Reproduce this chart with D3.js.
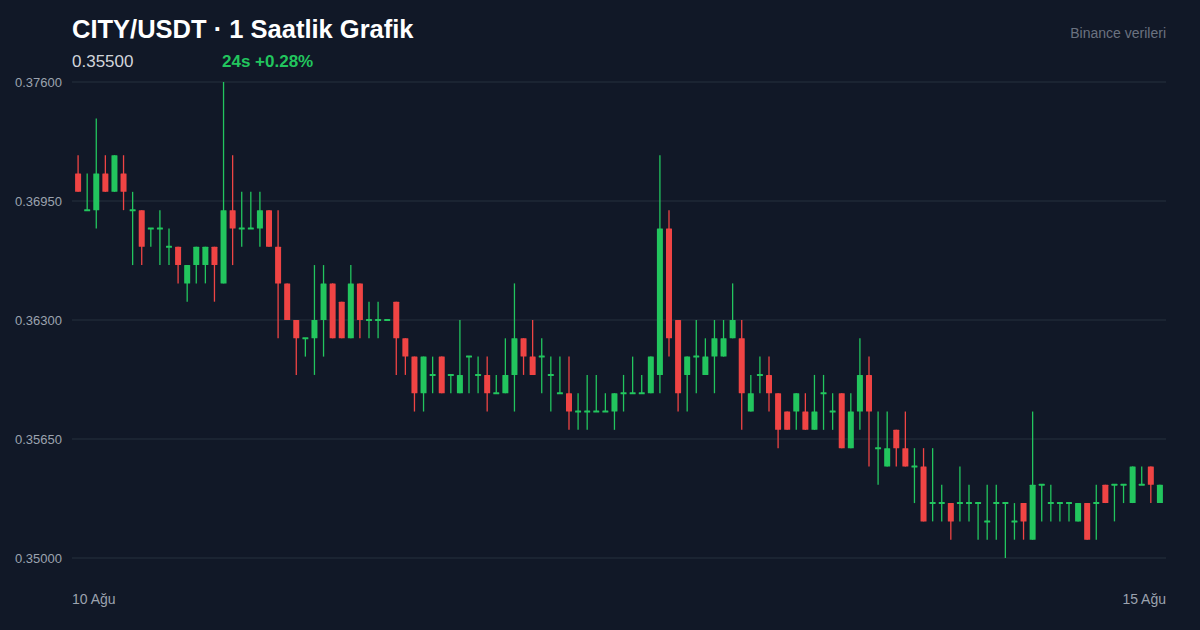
<!DOCTYPE html>
<html><head><meta charset="utf-8">
<script src="https://cdn.jsdelivr.net/npm/d3@7"></script>
<style>body{margin:0;background:#111827;}svg{display:block;font-family:"Liberation Sans",Arial,sans-serif;}</style>
</head><body><svg id="c" width="1200" height="630"></svg>
<script>
const opens  = [.371,.369,.369,.371,.370,.371,.369,.369,.368,.368,.367,.367,.365,.366,.366,.367,.365,.369,.368,.368,
.368,.369,.367,.365,.363,.362,.362,.363,.365,.364,.362,.365,.363,.363,.363,.364,.362,.361,.359,.360,
.361,.360,.359,.361,.360,.360,.359,.359,.360,.362,.361,.361,.360,.359,.359,.358,.358,.358,.358,.358,
.359,.359,.359,.359,.360,.368,.363,.360,.361,.360,.361,.361,.362,.362,.358,.360,.360,.359,.358,.358,
.358,.357,.359,.358,.359,.356,.358,.360,.356,.355,.357,.356,.355,.355,.353,.353,.353,.353,.353,.353,
.352,.353,.353,.352,.353,.351,.354,.353,.353,.353,.352,.353,.353,.354,.354,.354,.353,.354,.355,.353];
const highs  = [.372,.371,.374,.372,.372,.372,.370,.369,.368,.369,.368,.367,.366,.367,.367,.367,.376,.372,.370,.370,
.370,.369,.369,.365,.363,.362,.366,.366,.365,.364,.366,.365,.364,.364,.363,.364,.362,.361,.361,.361,
.361,.360,.363,.361,.361,.361,.360,.362,.365,.362,.363,.362,.361,.361,.361,.359,.360,.360,.359,.359,
.360,.361,.360,.361,.372,.369,.363,.361,.363,.362,.363,.363,.365,.363,.360,.361,.361,.359,.358,.359,
.359,.360,.360,.359,.359,.359,.362,.361,.358,.358,.357,.358,.356,.356,.356,.354,.353,.355,.354,.353,
.354,.354,.353,.353,.353,.358,.354,.354,.353,.353,.353,.353,.354,.354,.354,.354,.355,.355,.355,.354];
const lows   = [.370,.369,.368,.370,.370,.369,.366,.366,.367,.366,.366,.365,.364,.365,.365,.364,.365,.366,.367,.368,
.367,.367,.362,.363,.360,.361,.360,.361,.362,.362,.362,.362,.362,.362,.363,.360,.360,.358,.358,.359,
.359,.359,.359,.359,.359,.358,.359,.359,.358,.360,.360,.359,.358,.359,.357,.357,.357,.358,.358,.357,
.358,.359,.359,.359,.359,.361,.358,.358,.359,.360,.359,.361,.362,.357,.358,.359,.358,.356,.357,.357,
.357,.357,.357,.357,.356,.356,.357,.355,.354,.355,.355,.355,.353,.352,.352,.352,.351,.352,.352,.351,
.351,.351,.350,.351,.351,.351,.352,.352,.352,.352,.352,.351,.351,.353,.352,.353,.353,.354,.353,.353];
const closes = [.370,.369,.371,.370,.372,.370,.369,.367,.368,.368,.367,.366,.366,.367,.367,.366,.369,.368,.368,.368,
.369,.367,.365,.363,.362,.362,.363,.365,.362,.362,.365,.363,.363,.363,.363,.362,.361,.359,.361,.360,
.359,.360,.360,.361,.360,.359,.359,.360,.362,.361,.360,.361,.360,.359,.358,.358,.358,.358,.358,.359,
.359,.359,.359,.361,.368,.362,.359,.361,.361,.361,.362,.362,.363,.359,.359,.360,.359,.357,.357,.359,
.357,.358,.359,.358,.356,.358,.360,.358,.356,.356,.356,.355,.355,.352,.353,.353,.352,.353,.353,.353,
.352,.353,.353,.352,.352,.354,.354,.353,.353,.353,.353,.351,.353,.353,.354,.354,.355,.354,.354,.354];
const yTicks = [0.350, 0.3565, 0.363, 0.3695, 0.376];
const xTickLabels = ["10 Ağu", "15 Ağu"];
const title = "CITY/USDT · 1 Saatlik Grafik";
const lastPrice = "0.35500", change = "24s +0.28%", source = "Binance verileri";

const svg = d3.select("#c");
svg.append("rect").attr("width",1200).attr("height",630).attr("fill","#111827");
const x = d3.scaleBand().domain(d3.range(opens.length)).range([72,1166]).padding(0.34);
const y = d3.scaleLinear().domain([0.350,0.376]).range([558,82]);
const green="#22c55e", red="#ef4444";

svg.append("g").selectAll("line").data(yTicks).join("line")
  .attr("x1",72).attr("x2",1166).attr("y1",d=>y(d)).attr("y2",d=>y(d))
  .attr("stroke","#1f2937").attr("stroke-width",1.5);
svg.append("g").selectAll("text").data(yTicks).join("text")
  .attr("x",15).attr("y",d=>y(d)+4.5).attr("fill","#9ca3af").attr("font-size",13)
  .text(d=>d.toFixed(5));

const g = svg.append("g");
opens.forEach((o,i)=>{
  const c = closes[i], col = c>=o ? green : red;
  const cx = x(i)+x.bandwidth()/2;
  g.append("line").attr("x1",cx).attr("x2",cx).attr("y1",y(highs[i])).attr("y2",y(lows[i]))
    .attr("stroke",col).attr("stroke-width",1.3);
  const top = y(Math.max(o,c)), h = Math.max(2, Math.abs(y(o)-y(c)));
  g.append("rect").attr("x",x(i)).attr("width",x.bandwidth()).attr("y",o===c?top-1:top).attr("height",h)
    .attr("fill",col).attr("rx",0.5);
});

svg.append("text").attr("x",72).attr("y",38).attr("fill","#ffffff").attr("font-size",25.5).attr("font-weight","bold").text(title);
svg.append("text").attr("x",72).attr("y",67).attr("fill","#d1d5db").attr("font-size",17).text(lastPrice);
svg.append("text").attr("x",222).attr("y",67).attr("fill",green).attr("font-size",17).attr("font-weight","bold").text(change);
svg.append("text").attr("x",1166).attr("y",38).attr("text-anchor","end").attr("fill","#6b7280").attr("font-size",14).text(source);
svg.append("text").attr("x",72).attr("y",604).attr("fill","#9ca3af").attr("font-size",14).text(xTickLabels[0]);
svg.append("text").attr("x",1166).attr("y",604).attr("text-anchor","end").attr("fill","#9ca3af").attr("font-size",14).text(xTickLabels[1]);
</script></body></html>
